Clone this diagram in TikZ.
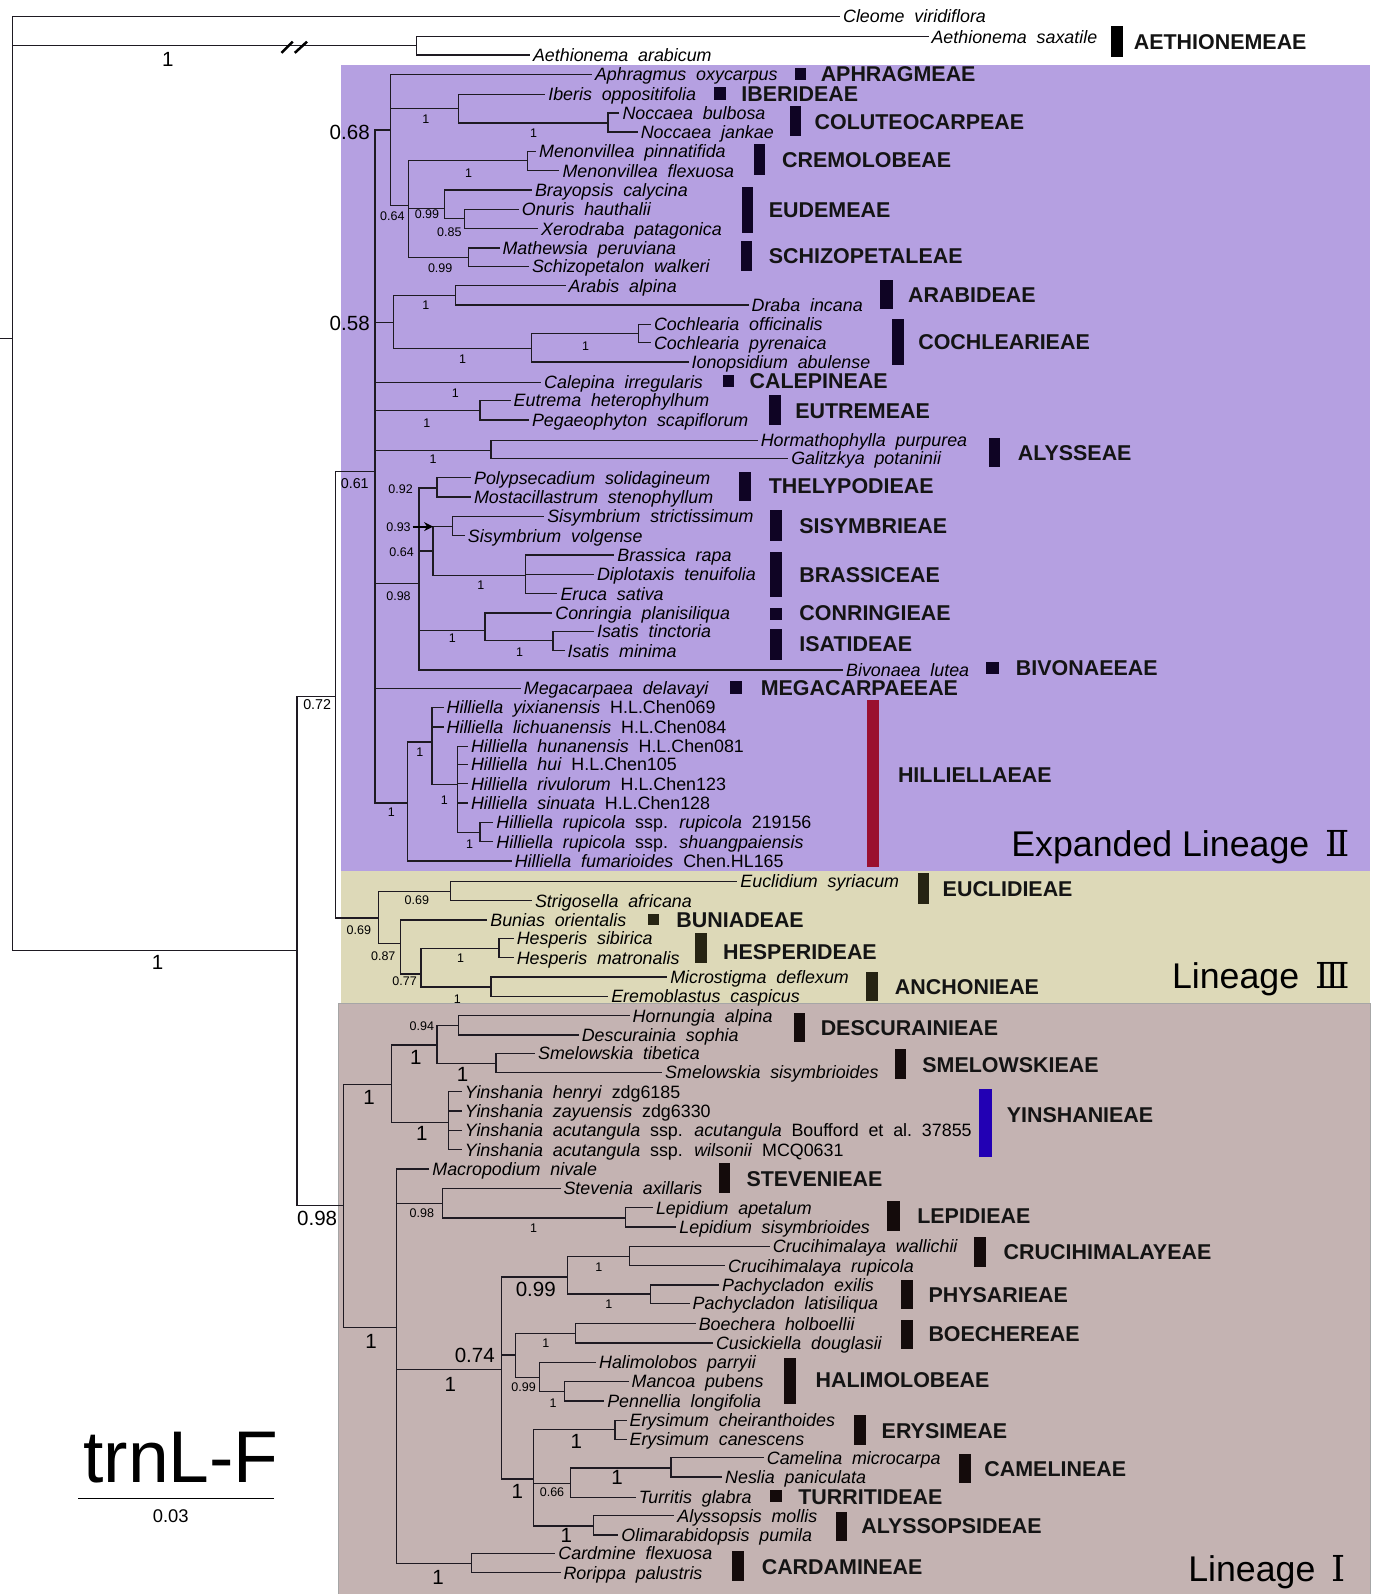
\documentclass[tikz,border=0pt]{standalone}
\usepackage{fontspec}
\setmainfont{Liberation Sans}
\newfontfamily\romanfont{DejaVu Serif}
\usetikzlibrary{arrows.meta}

\definecolor{linIIfill}{HTML}{B5A0E1}
\definecolor{linIIIfill}{HTML}{DDD9B8}
\definecolor{linIfill}{HTML}{C4B3B2}
\definecolor{barII}{HTML}{0F0424}
\definecolor{barIII}{HTML}{262413}
\definecolor{barI}{HTML}{140B0B}
\definecolor{hillred}{HTML}{9A1030}
\definecolor{yinsblue}{HTML}{2200B4}
\definecolor{treeline}{HTML}{1E1A22}

\newcommand\leaffont{\fontsize{10}{12}\selectfont\itshape\spaceskip=0.55em plus 0.1em\relax}

\tikzset{
  branch/.style={draw=treeline, line width=0.75pt},
  leaf/.style={anchor=west, inner xsep=1.5pt, inner ysep=0pt, xshift=-1.5pt,
    text height=7.2pt, text depth=0pt, font=\leaffont},
  tribe/.style={anchor=west, inner sep=0pt, text height=8.6pt, text depth=0pt,
    font=\fontsize{12}{14}\selectfont\bfseries, text=black!92},
  supL/.style={inner sep=0pt, text height=8.2pt, text depth=0pt, font=\fontsize{11.5}{13}\selectfont},
  supM/.style={inner sep=0pt, text height=5.7pt, text depth=0pt, font=\fontsize{8}{9}\selectfont},
  supS/.style={inner sep=0pt, text height=5pt, text depth=0pt, font=\fontsize{7}{8}\selectfont},
  lineage/.style={anchor=east, inner sep=0pt, text height=14.3pt, text depth=0pt, font=\fontsize{20}{22}\selectfont}
}

\begin{document}
\begin{tikzpicture}[x=0.02cm, y=-0.02cm]
    \useasboundingbox (0,0) rectangle (1350,1568);

    % Lineage backgrounds
    \fill[linIIfill] (335,64) rectangle (1348,857);
    \fill[linIIIfill] (335,857) rectangle (1348,987);
    \filldraw[fill=linIfill, draw=gray!70, line width=0.5pt] (333,987) rectangle (1348,1568);

    % Root and internal nodes
    \coordinate (root) at (12,333);
    \coordinate (rootstub) at (0,333);
    \draw[branch] (rootstub) -- (root);
    \foreach \n/\x/\y/\p in {
        aeth/410/45/root, core/292/935/root,
        lin23/330/685/core, lin1/338/1186/core,
        lin2/369/464/lin23, lin3/372/903/lin23,
        c068/384/128/lin2, iber/451/107/c068, nocc/598/121/iber,
        c064/402/202/c068, menon/519/158/c064, eude/437/205/c064,
        onx/457/215/eude, schiz/461/253/c064,
        c058/387/317/lin2, arab/448/291/c058, coch/523/343/c058, cochp/628/328/coch,
        eutr/472/404/lin2, horm/483/443/lin2,
        c098/412/574/lin2, thely/430/480/c098, c064b/426/542/c098,
        sisym/445/518/c064b, brass/517/566/c064b, conr/477/620/c098, isat/544/630/conr,
        hill/401/790/lin2, hillA/425/730/hill, hillB/450/772/hillA, hrup/472/819/hillB,
        eucl/443/877/lin3, c087/394/928/lin3, c077/414/958/c087,
        hesp/491/933/c077, anch/483/971/c077,
        c1a/385/1067/lin1, c1b/430/1028/c1a, desc/451/1009/c1b, smel/488/1046/c1b,
        yins/441/1104/c1a,
        c1c/390/1306/lin1, stev/435/1184/c1c, lepi/615/1198/stev,
        c074/493/1347/c1c, c099/558/1256/c074, cruc/619/1236/c099, pach/640/1273/c099,
        c1d/507/1333/c074, boech/566/1312/c1d, hali/531/1355/c1d, manc/555/1369/hali,
        c1e/525/1455/c074, erys/605/1406/c1e, c066/561/1459/c1e,
        came/660/1444/c066, alys/584/1501/c1e,
        card/464/1538/c1c}
    {
        \coordinate (\n) at (\x,\y);
        \draw[branch] (\p) |- (\n);
    }

    % Terminal taxa
    \foreach \n/\x/\y/\p/\t in {
        cleome/829/16/root/Cleome viridiflora,
        aethsax/916/36/aeth/Aethionema saxatile,
        aetharab/524/54/aeth/Aethionema arabicum,
        aphragmus/585/73/c068/Aphragmus oxycarpus,
        iberis/539/93/iber/Iberis oppositifolia,
        noccbul/612/111/nocc/Noccaea bulbosa,
        noccjan/630/130/nocc/Noccaea jankae,
        menpin/530/149/menon/Menonvillea pinnatifida,
        menflex/553/168/menon/Menonvillea flexuosa,
        brayopsis/526/187/eude/Brayopsis calycina,
        onuris/513/206/onx/Onuris hauthalii,
        xerodraba/532/225/onx/Xerodraba patagonica,
        mathewsia/494/244/schiz/Mathewsia peruviana,
        schizop/523/262/schiz/Schizopetalon walkeri,
        arabis/559/281/arab/Arabis alpina,
        draba/739/300/arab/Draba incana,
        cochoff/643/319/cochp/Cochlearia officinalis,
        cochpyr/643/337/cochp/Cochlearia pyrenaica,
        ionops/680/356/coch/Ionopsidium abulense,
        calepina/535/376/lin2/Calepina irregularis,
        eutrema/505/394/eutr/Eutrema heterophylhum,
        pegaeo/523/413/eutr/Pegaeophyton scapiflorum,
        hormath/748/433/horm/Hormathophylla purpurea,
        galitz/778/451/horm/Galitzkya potaninii,
        polyps/466/470/thely/Polypsecadium solidagineum,
        mostac/466/489/thely/Mostacillastrum stenophyllum,
        sisstr/538/508/sisym/Sisymbrium strictissimum,
        sisvol/460/527/sisym/Sisymbrium volgense,
        brassica/607/546/brass/Brassica rapa,
        diplot/587/565/brass/Diplotaxis tenuifolia,
        eruca/551/584/brass/Eruca sativa,
        conring/546/603/conr/Conringia planisiliqua,
        isattin/587/621/isat/Isatis tinctoria,
        isatmin/558/640/isat/Isatis minima,
        bivon/832/659/c098/Bivonaea lutea,
        megac/515/677/lin2/Megacarpaea delavayi,
        hyix/439/696/hillA/Hilliella yixianensis \textup{H.L.Chen069},
        hlich/439/715/hillA/Hilliella lichuanensis \textup{H.L.Chen084},
        hhun/463/734/hillB/Hilliella hunanensis \textup{H.L.Chen081},
        hhui/463/752/hillB/Hilliella hui \textup{H.L.Chen105},
        hriv/463/771/hillB/Hilliella rivulorum \textup{H.L.Chen123},
        hsin/463/790/hillB/Hilliella sinuata \textup{H.L.Chen128},
        hruprup/488/809/hrup/Hilliella rupicola \textup{ssp.} rupicola \textup{219156},
        hrupsh/488/828/hrup/Hilliella rupicola \textup{ssp.} shuangpaiensis,
        hfum/506/847/hill/Hilliella fumarioides \textup{Chen.HL165},
        euclid/728/867/eucl/Euclidium syriacum,
        strigos/526/886/eucl/Strigosella africana,
        bunias/482/905/c087/Bunias orientalis,
        hespsib/508/923/hesp/Hesperis sibirica,
        hespmat/508/942/hesp/Hesperis matronalis,
        micros/659/961/anch/Microstigma deflexum,
        eremob/601/980/anch/Eremoblastus caspicus,
        hornung/622/999/desc/Hornungia alpina,
        descur/572/1018/desc/Descurainia sophia,
        smeltib/529/1036/smel/Smelowskia tibetica,
        smelsis/654/1055/smel/Smelowskia sisymbrioides,
        yhen/457/1074/yins/Yinshania henryi \textup{zdg6185},
        yzay/457/1093/yins/Yinshania zayuensis \textup{zdg6330},
        yacu/457/1112/yins/Yinshania acutangula \textup{ssp.} acutangula \textup{Boufford\ et\ al.\ 37855},
        ywil/457/1131/yins/Yinshania acutangula \textup{ssp.} wilsonii \textup{MCQ0631},
        macrop/425/1150/c1c/Macropodium nivale,
        stevenia/554/1169/stev/Stevenia axillaris,
        lepape/645/1188/lepi/Lepidium apetalum,
        lepsis/668/1207/lepi/Lepidium sisymbrioides,
        crucwal/760/1226/cruc/Crucihimalaya wallichii,
        crucrup/716/1245/cruc/Crucihimalaya rupicola,
        pachex/710/1264/pach/Pachycladon exilis,
        pachlat/681/1282/pach/Pachycladon latisiliqua,
        boechera/687/1302/boech/Boechera holboellii,
        cusick/704/1321/boech/Cusickiella douglasii,
        halimol/589/1340/hali/Halimolobos parryii,
        mancoa/621/1359/manc/Mancoa pubens,
        pennell/597/1378/manc/Pennellia longifolia,
        erych/619/1397/erys/Erysimum cheiranthoides,
        eryca/619/1416/erys/Erysimum canescens,
        camelina/754/1434/came/Camelina microcarpa,
        neslia/713/1453/came/Neslia paniculata,
        turritis/628/1473/c066/Turritis glabra,
        alyssop/666/1491/alys/Alyssopsis mollis,
        olimar/611/1510/alys/Olimarabidopsis pumila,
        cardmine/549/1528/card/Cardmine flexuosa,
        rorippa/554/1547/card/Rorippa palustris}
    {
        \node[leaf] (\n) at (\x,\y) {\t};
        \draw[branch] (\p) |- (\n);
    }

    % Long-branch break
    \draw[line width=1.4pt] (277,52) -- (288,41);
    \draw[line width=1.4pt] (290,52) -- (302,41);

    % Arrow to Sisymbrium
    \coordinate (arrtail) at (406,518);
    \draw[line width=1.2pt, -{Stealth[length=5pt,width=5pt]}] (arrtail) -- (c064b |- sisym);

    % Support values
    \foreach \x/\y/\t [count=\i] in {165/58/1, 155/946/1, 344/130/0.68, 344/318/0.58,
        312/1198/0.98, 409/1040/1, 455/1057/1, 363/1079/1, 415/1115/1,
        527/1268/0.99, 365/1319/1, 467/1333/0.74, 443/1362/1, 567/1418/1,
        607/1453/1, 509/1467/1, 557/1510/1, 431/1551/1}
        \node[supL] (sl\i) at (\x,\y) {\t};
    \foreach \x/\y/\t [count=\i] in {312/693/0.72, 349/476/0.61}
        \node[supM] (sm\i) at (\x,\y) {\t};
    \foreach \x/\y/\t [count=\i] in {419/117/1, 525/131/1, 461/170/1, 386/213/0.64,
        420/211/0.99, 442/228/0.85, 433/264/0.99, 419/300/1, 576/340/1, 455/353/1,
        448/387/1, 420/416/1, 426/452/1, 394/481/0.92, 392/518/0.93, 395/543/0.64,
        392/586/0.98, 473/575/1, 445/628/1, 511/641/1, 413/740/1, 437/787/1,
        462/830/1, 385/799/1,
        410/885/0.69, 353/915/0.69, 377/940/0.87, 398/965/0.77, 453/942/1, 450/983/1,
        415/1009/0.94, 415/1193/0.98, 525/1208/1, 589/1246/1, 599/1283/1,
        537/1321/1, 515/1364/0.99, 544/1380/1, 543/1468/0.66}
        \node[supS] (ss\i) at (\x,\y) {\t};

    % Tribe bars
    \fill[black] (1093,26) rectangle (1105,56);
    \node[tribe] (aethion) at (1115,41) {AETHIONEMEAE};
    \foreach \xa/\ya/\xb/\yb/\lx/\ly/\t [count=\i] in {
        782/67/793/79/807/73/APHRAGMEAE, 702/86/714/98/729/92/IBERIDEAE,
        777/104/788/134/801/120/COLUTEOCARPEAE, 742/142/753/172/769/157/CREMOLOBEAE,
        730/184/741/229/756/206/EUDEMEAE, 729/237/740/267/756/252/SCHIZOPETALEAE,
        866/275/878/304/893/290/ARABIDEAE, 877/314/889/359/903/336/COCHLEARIEAE,
        711/369/722/381/737/375/CALEPINEAE, 756/389/768/418/782/404/EUTREMEAE,
        973/431/984/459/1001/445/ALYSSEAE, 727/464/739/493/756/478/THELYPODIEAE,
        757/502/769/532/786/517/SISYMBRIEAE, 757/543/769/587/786/565/BRASSICEAE,
        757/598/769/610/786/603/CONRINGIEAE, 757/619/769/649/786/633/ISATIDEAE,
        970/651/983/663/999/657/BIVONAEEAE, 718/670/730/683/748/677/MEGACARPAEEAE}
    {
        \fill[barII] (\xa,\ya) rectangle (\xb,\yb);
        \node[tribe] (tII\i) at (\lx,\ly) {\t};
    }
    \fill[hillred] (853,689) rectangle (865,853);
    \node[tribe] (hilliel) at (883,762) {HILLIELLAEAE};
    \foreach \xa/\ya/\xb/\yb/\lx/\ly/\t [count=\i] in {
        903/859/914/889/927/874/EUCLIDIEAE, 637/899/648/910/665/905/BUNIADEAE,
        684/918/695/947/711/936/HESPERIDEAE, 852/956/864/985/880/971/ANCHONIEAE}
    {
        \fill[barIII] (\xa,\ya) rectangle (\xb,\yb);
        \node[tribe] (tIII\i) at (\lx,\ly) {\t};
    }
    \fill[yinsblue] (963,1071) rectangle (976,1138);
    \node[tribe] (yinshan) at (990,1097) {YINSHANIEAE};
    \foreach \xa/\ya/\xb/\yb/\lx/\ly/\t [count=\i] in {
        781/996/792/1025/807/1011/DESCURAINIEAE, 880/1032/891/1061/907/1047/SMELOWSKIEAE,
        707/1144/718/1174/734/1160/STEVENIEAE, 873/1181/885/1211/902/1196/LEPIDIEAE,
        958/1217/970/1246/987/1231/CRUCIHIMALAYEAE, 886/1259/898/1288/913/1274/PHYSARIEAE,
        886/1298/898/1327/913/1312/BOECHEREAE, 771/1336/783/1381/802/1357/HALIMOLOBEAE,
        840/1392/852/1421/867/1407/ERYSIMEAE, 943/1430/955/1459/968/1445/CAMELINEAE,
        757/1466/769/1477/785/1472/TURRITIDEAE, 822/1487/833/1516/847/1501/ALYSSOPSIDEAE,
        720/1526/732/1555/749/1541/CARDAMINEAE}
    {
        \fill[barI] (\xa,\ya) rectangle (\xb,\yb);
        \node[tribe] (tI\i) at (\lx,\ly) {\t};
    }

    % Lineage titles
    \node[lineage] (linIIname) at (1328,830) {Expanded Lineage\hspace{0.45em}{\romanfont Ⅱ}};
    \node[lineage] (linIIIname) at (1328,960) {Lineage\hspace{0.45em}{\romanfont Ⅲ}};
    \node[lineage] (linIname) at (1324,1543) {Lineage\hspace{0.45em}{\romanfont Ⅰ}};

    % Scale bar
    \node[inner sep=0pt, text height=29pt, text depth=0pt, font=\fontsize{41}{44}\selectfont] (marker) at (178,1433) {trnL-F};
    \coordinate (sbl) at (77,1474);
    \coordinate (sbr) at (270,1474);
    \draw[line width=0.9pt] (sbl) -- (sbr);
    \node[inner sep=0pt, text height=7.3pt, text depth=0pt, font=\fontsize{10.3}{12}\selectfont] (sbval) at (168,1491) {0.03};
\end{tikzpicture}
\end{document}
